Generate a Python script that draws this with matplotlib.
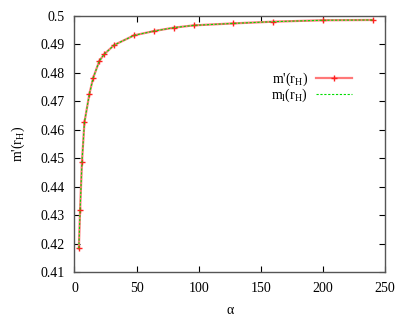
import matplotlib
matplotlib.use("Agg")
import matplotlib.pyplot as plt

# valores
alpha = [3.5, 4.5, 6, 8, 12, 15, 20, 24, 32, 48, 64, 80, 96, 128, 160, 200, 240]
m_prima = [0.4183, 0.4317, 0.4486, 0.4626, 0.4726, 0.4782, 0.4842, 0.4866, 0.4898,
           0.4932, 0.4947, 0.4959, 0.4967, 0.4974, 0.4980, 0.4985, 0.4986]
m_uno = m_prima

plt.rcParams['font.family'] = ['Liberation Serif', 'DejaVu Serif']
plt.rcParams['mathtext.fontset'] = 'custom'
plt.rcParams['mathtext.rm'] = 'Liberation Serif'
plt.rcParams['mathtext.it'] = 'Liberation Serif:italic'
plt.rcParams['mathtext.default'] = 'rm'
plt.rcParams['font.size'] = 10

fig = plt.figure(figsize=(4.1, 3.16), dpi=100)
ax = fig.add_axes([0.1817, 0.1392, 0.939 - 0.1817, 0.9494 - 0.1392])

ax.plot(alpha, m_prima, color='#ff7878', lw=1.6, marker='+', ms=4, mew=1.0,
        mec='#ff2020', label="m'(r$_\\mathrm{H}$)")
ax.plot(alpha, m_uno, color='#00dd00', lw=0.8, ls=(0, (2, 1.5)),
        label="m$_\\mathrm{l}$(r$_\\mathrm{H}$)")

ax.set_xlim(0, 250)
ax.set_ylim(0.41, 0.5)
ax.set_xticks(range(0, 251, 50))
ax.set_yticks([0.41 + 0.01 * i for i in range(10)])
ax.set_yticklabels(['0.41', '0.42', '0.43', '0.44', '0.45', '0.46', '0.47', '0.48', '0.49', '0.5'])
ax.tick_params(direction='in', top=True, right=True, length=4, width=0.8, pad=7)
for s in ax.spines.values():
    s.set_color('#555555')
    s.set_linewidth(1.0)

ax.set_xlabel('α', labelpad=7)
ax.set_ylabel("m'(r$_\\mathrm{H}$)", labelpad=10)

ax.legend(loc='upper right', bbox_to_anchor=(0.917, 0.815), frameon=False, markerfirst=False,
          handlelength=2.6, handletextpad=0.6, labelspacing=-0.1, borderpad=0)

fig.savefig('out.png', dpi=100)
